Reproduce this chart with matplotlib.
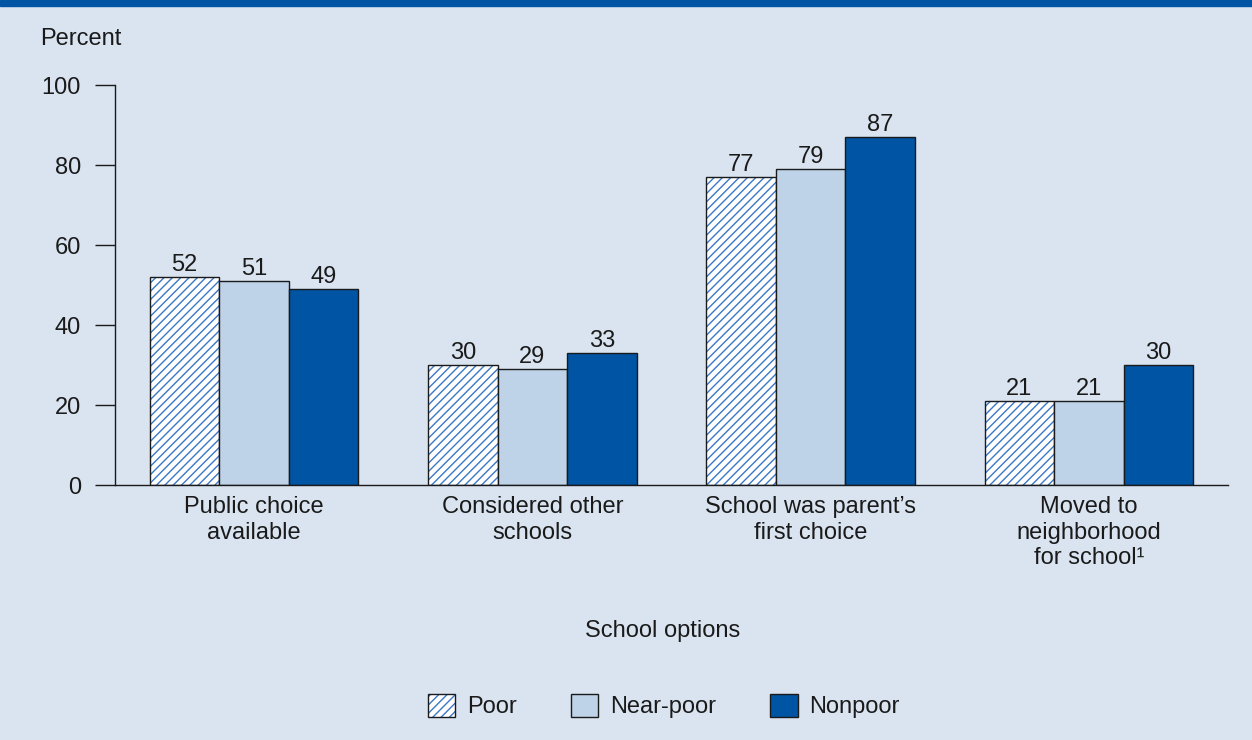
import matplotlib.pyplot as plt
import numpy as np
from matplotlib.patches import Rectangle
from matplotlib.colors import to_rgba

plt.rcParams['font.family'] = ['Liberation Sans', 'DejaVu Sans']
plt.rcParams['hatch.linewidth'] = 1.0

categories = ["Public choice\navailable", "Considered other\nschools",
              "School was parent\u2019s\nfirst choice", "Moved to\nneighborhood\nfor school\u00b9"]
groups = ["Poor", "Near-poor", "Nonpoor"]
poor = [52, 30, 77, 21]
near_poor = [51, 29, 79, 21]
nonpoor = [49, 33, 87, 30]

bg = "#d9e4f0"
dark = "#1a1a1a"
blue = "#0054a4"
light = "#bfd3e8"
hatch_blue = "#3a78c8"
fs = 17

fig = plt.figure(figsize=(12.52, 7.4), dpi=100, facecolor=bg)
# bandeau bleu en haut
fig.patches.append(Rectangle((0, 1 - 6 / 740), 1, 6 / 740, transform=fig.transFigure,
                             color=blue, zorder=0))

ax = fig.add_axes([115 / 1252, 1 - 485 / 740, (1228 - 115) / 1252, 400 / 740])
ax.set_facecolor(bg)

x = np.arange(len(categories))
w = 0.25
b1 = ax.bar(x - w, poor, w, facecolor="white", edgecolor=dark, linewidth=1.0,
            hatch="////", label=groups[0])
for p in b1:
    p._hatch_color = to_rgba(hatch_blue)
b2 = ax.bar(x, near_poor, w, color=light, edgecolor=dark, linewidth=1.0, label=groups[1])
b3 = ax.bar(x + w, nonpoor, w, color=blue, edgecolor=dark, linewidth=1.0, label=groups[2])

for bars in (b1, b2, b3):
    ax.bar_label(bars, padding=1, fontsize=fs, color=dark)

ax.set_xlim(-0.5, 3.5)
ax.set_ylim(0, 100)
ax.set_yticks([0, 20, 40, 60, 80, 100])
ax.tick_params(axis="y", direction="out", length=14.5, width=1.0, color=dark,
               labelsize=fs, labelcolor=dark, pad=10)
ax.set_xticks(x)
ax.set_xticklabels(categories, fontsize=fs, color=dark, linespacing=1.2, va="top")
ax.tick_params(axis="x", length=0, pad=8)

for s in ("top", "right"):
    ax.spines[s].set_visible(False)
for s in ("left", "bottom"):
    ax.spines[s].set_color(dark)
    ax.spines[s].set_linewidth(1.0)

fig.text(40 / 1252, 1 - 39 / 740, "Percent", fontsize=fs, color=dark, va="center")
fig.text(663 / 1252, 1 - 631 / 740, "School options", fontsize=fs, color=dark,
         ha="center", va="center")

leg = fig.legend(handles=[b1, b2, b3], labels=groups, loc="center",
                 bbox_to_anchor=(664 / 1252, 1 - 706 / 740), ncol=3, frameon=False,
                 fontsize=fs, handlelength=1.15, handleheight=1.15,
                 handletextpad=0.5, columnspacing=2.3)
for t in leg.get_texts():
    t.set_color(dark)

fig.savefig("out.png", dpi=100, facecolor=bg)
